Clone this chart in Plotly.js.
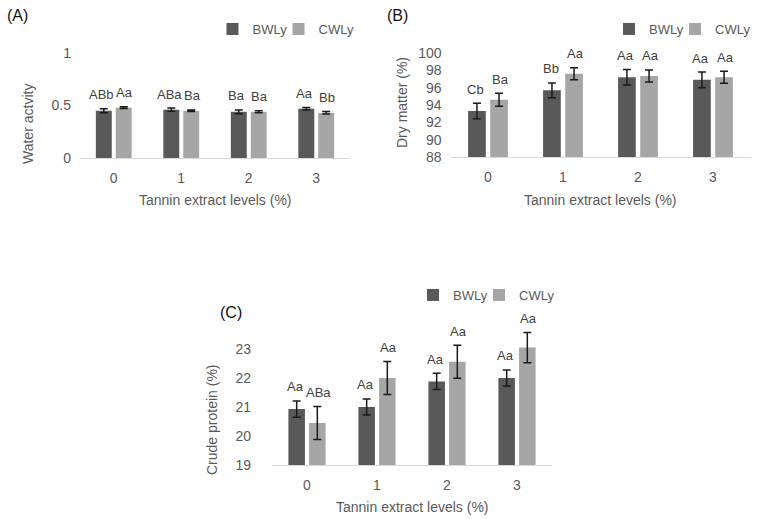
<!DOCTYPE html>
<html>
<head>
<meta charset="utf-8">
<script src="https://cdn.plot.ly/plotly-3.0.1.min.js"></script>
<style>
  html, body { margin: 0; padding: 0; background: #fff; }
  #chart { width: 757px; height: 519px; }
</style>
</head>
<body>
<div id="chart"></div>
<script>
const W = 757, H = 519;

const levels = ["0", "1", "2", "3"];

// (A) water activity
const awBW = [0.45, 0.46, 0.44, 0.47];
const awCW = [0.48, 0.45, 0.44, 0.43];
const awBWerr = [0.02, 0.015, 0.018, 0.012];
const awCWerr = [0.008, 0.008, 0.01, 0.012];
const awBWlab = ["ABb", "ABa", "Ba", "Aa"];
const awCWlab = ["Aa", "Ba", "Ba", "Bb"];

// (B) dry matter
const dmBW = [93.3, 95.7, 97.2, 96.9];
const dmCW = [94.6, 97.6, 97.35, 97.2];
const dmBWerr = [0.9, 0.85, 0.9, 0.9];
const dmCWerr = [0.75, 0.7, 0.7, 0.7];
const dmBWlab = ["Cb", "Bb", "Aa", "Aa"];
const dmCWlab = ["Ba", "Aa", "Aa", "Aa"];

// (C) crude protein
const cpBW = [20.93, 21.0, 21.88, 22.0];
const cpCW = [20.45, 22.0, 22.56, 23.05];
const cpBWerr = [0.28, 0.28, 0.28, 0.28];
const cpCWerr = [0.57, 0.57, 0.57, 0.52];
const cpBWlab = ["Aa", "Aa", "Aa", "Aa"];
const cpCWlab = ["ABa", "Aa", "Aa", "Aa"];

const darkGray = "#595959";
const lightGray = "#A6A6A6";
const axisText = "#595959";
const FONT = "Liberation Sans, Arial, sans-serif";

// pixel helpers -> paper coords
const px = (x) => x / W;
const py = (y) => (H - y) / H;

function bars(name, color, x, y, err, xa, ya, lg) {
  return {
    type: "bar",
    name: name,
    x: x,
    y: y,
    xaxis: xa,
    yaxis: ya,
    legend: lg,
    showlegend: true,
    marker: { color: color },
    error_y: { type: "data", array: err, visible: true, color: "#1a1a1a", thickness: 1.5, width: 4 },
    hoverinfo: "skip",
  };
}

// one legend per trace so each entry sits where the reference has it
const data = [
  bars("BWLy", darkGray, levels, awBW, awBWerr, "x", "y", "legend"),
  bars("CWLy", lightGray, levels, awCW, awCWerr, "x", "y", "legend2"),
  bars("BWLy", darkGray, levels, dmBW, dmBWerr, "x2", "y2", "legend3"),
  bars("CWLy", lightGray, levels, dmCW, dmCWerr, "x2", "y2", "legend4"),
  bars("BWLy", darkGray, levels, cpBW, cpBWerr, "x3", "y3", "legend5"),
  bars("CWLy", lightGray, levels, cpCW, cpCWerr, "x3", "y3", "legend6"),
];

// letters above the error bars (bar centre = category index +/- off)
const off = 0.148;
function letters(xr, yr, vals, errs, labs, dx, shift) {
  return labs.map((t, i) => ({
    xref: xr, yref: yr,
    x: i + dx, y: vals[i] + errs[i],
    text: t, showarrow: false,
    yanchor: "middle", yshift: 14, xshift: shift,
    font: { size: 13, color: "#404040", family: FONT },
  }));
}

function label(text, x, y, size, color, angle) {
  return {
    xref: "paper", yref: "paper", x: px(x), y: py(y),
    text: text, showarrow: false, textangle: angle || 0,
    xanchor: "center", yanchor: "middle",
    font: { size: size, color: color, family: FONT },
  };
}

const annotations = [
  ...letters("x", "y", awBW, awBWerr, awBWlab, -off, -2),
  ...letters("x", "y", awCW, awCWerr, awCWlab, off, 1),
  ...letters("x2", "y2", dmBW, dmBWerr, dmBWlab, -off, -1),
  ...letters("x2", "y2", dmCW, dmCWerr, dmCWlab, off, 1),
  ...letters("x3", "y3", cpBW, cpBWerr, cpBWlab, -off, -1),
  ...letters("x3", "y3", cpCW, cpCWerr, cpCWlab, off, 1),
  label("(A)", 17, 15, 16, "#111", 0),
  label("(B)", 398, 15, 16, "#111", 0),
  label("(C)", 231, 313, 16, "#111", 0),
  label("Water actvity", 28, 124, 14, axisText, -90),
  label("Dry matter (%)", 402, 103, 14, axisText, -90),
  label("Crude protein (%)", 212, 420, 14, axisText, -90),
  label("Tannin extract levels (%)", 215, 200, 14, axisText, 0),
  label("Tannin extract levels (%)", 600, 200, 14, axisText, 0),
  label("Tannin extract levels (%)", 412, 507, 14, axisText, 0),
];

const xBase = {
  type: "category",
  showline: true,
  linecolor: "#D9D9D9",
  linewidth: 1,
  showgrid: false,
  zeroline: false,
  ticks: "",
  ticklabelstandoff: 7,
  tickfont: { size: 14, color: axisText, family: FONT },
  fixedrange: true,
};
const yBase = {
  showline: false,
  showgrid: false,
  zeroline: false,
  ticks: "",
  ticklabelstandoff: 8,
  tickfont: { size: 14, color: axisText, family: FONT },
  fixedrange: true,
};

// x is given as roughly where the legend square should land
function leg(squareX, y) {
  return {
    orientation: "h",
    xanchor: "left",
    yanchor: "middle",
    x: px(squareX - 21),
    y: py(y),
    font: { size: 13, color: axisText, family: FONT },
    bgcolor: "rgba(0,0,0,0)",
  };
}

const layout = {
  width: W,
  height: H,
  margin: { l: 0, r: 0, t: 0, b: 0 },
  paper_bgcolor: "#fff",
  plot_bgcolor: "#fff",
  font: { family: FONT, color: axisText },
  showlegend: true,
  barmode: "group",
  bargap: 0.41,
  bargroupgap: 0.2,
  xaxis: { ...xBase, domain: [px(80), px(350)], anchor: "y" },
  yaxis: { ...yBase, domain: [py(158), py(53)], range: [0, 1], tickvals: [0, 0.5, 1], ticktext: ["0", "0.5", "1"], anchor: "x" },
  xaxis2: { ...xBase, domain: [px(450.5), px(750.5)], anchor: "y2" },
  yaxis2: { ...yBase, domain: [py(157), py(53)], range: [88, 100], dtick: 2, anchor: "x2" },
  xaxis3: { ...xBase, domain: [px(272), px(552)], anchor: "y3" },
  yaxis3: { ...yBase, domain: [py(465), py(320)], range: [19, 24], tickvals: [19, 20, 21, 22, 23], ticklabelstandoff: 20, anchor: "x3" },
  legend: leg(233.5, 29),
  legend2: leg(299.5, 29),
  legend3: leg(630, 29),
  legend4: leg(696, 29),
  legend5: leg(434, 295),
  legend6: leg(500, 295),
  annotations: annotations,
};

Plotly.newPlot("chart", data, layout, { displayModeBar: false, staticPlot: true });
</script>
</body>
</html>
